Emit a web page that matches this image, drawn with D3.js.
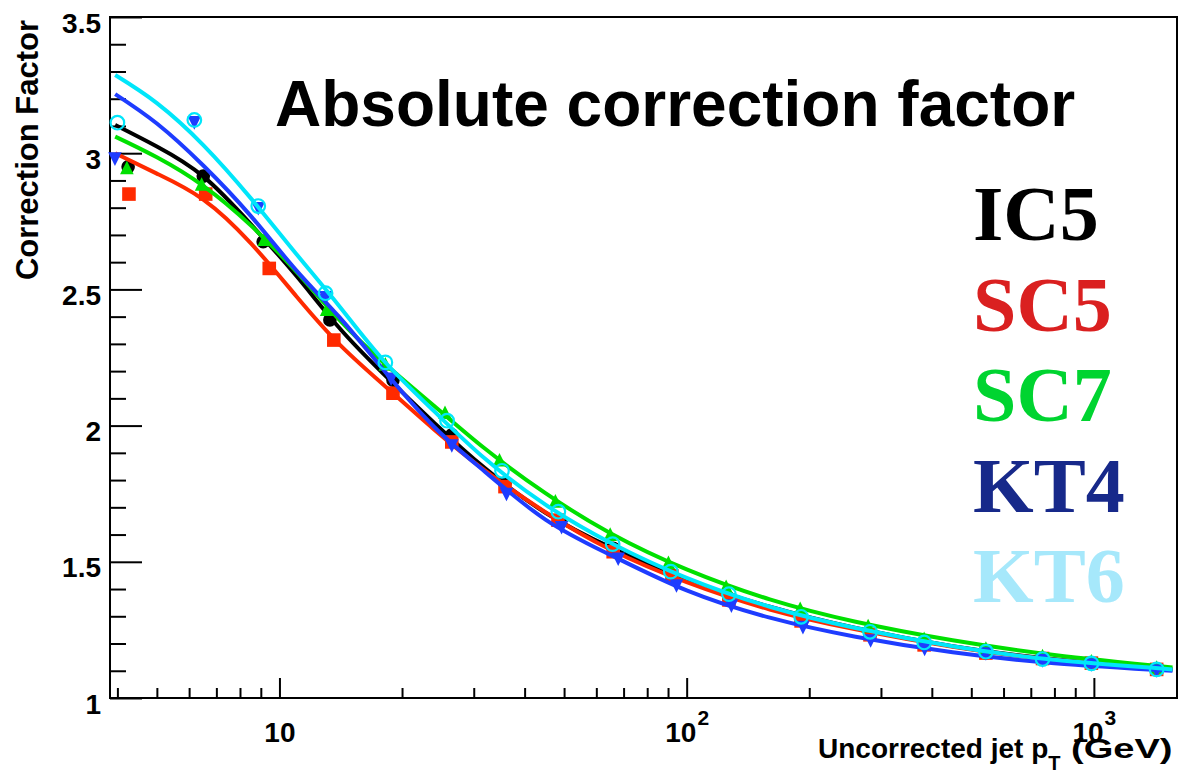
<!DOCTYPE html>
<html>
<head>
<meta charset="utf-8">
<script src="https://cdn.jsdelivr.net/npm/d3@7"></script>
<style>
  html, body { margin: 0; padding: 0; background: #fff; }
  svg { display: block; }
  text { font-family: "Liberation Sans", Arial, Helvetica, sans-serif; font-weight: bold; }
  text.leg { font-family: "Liberation Serif", "Times New Roman", serif; }
</style>
</head>
<body>
<svg id="chart" width="1182" height="777"></svg>
<script>
// ---- data -------------------------------------------------------------
const seriesNames = ["IC5", "SC5", "SC7", "KT4", "KT6"];

// measured points: uncorrected pT (GeV) and correction factor
const ic5Pt  = [4.25, 6.5, 9.12, 13.3, 19.0, 26.5, 35.8, 48.9, 66, 92, 127, 191, 282, 383, 543, 748, 986, 1426];
const ic5Val = [2.950, 2.916, 2.675, 2.388, 2.167, 1.966, 1.789, 1.650, 1.550, 1.450, 1.367, 1.286, 1.235, 1.197, 1.165, 1.142, 1.127, 1.105];

const sc5Pt  = [4.27, 6.59, 9.44, 13.6, 19.0, 26.5, 35.8, 48.3, 66, 92, 127, 191, 282, 383, 543, 748, 986, 1426];
const sc5Val = [2.850, 2.850, 2.577, 2.314, 2.119, 1.940, 1.776, 1.653, 1.537, 1.448, 1.360, 1.283, 1.232, 1.195, 1.165, 1.145, 1.128, 1.105];

const sc7Pt  = [4.22, 6.44, 9.18, 13.06, 18.2, 25.5, 34.7, 47.6, 64.9, 90.2, 125, 190, 279, 383, 543, 748, 986, 1426];
const sc7Val = [2.944, 2.883, 2.681, 2.424, 2.223, 2.045, 1.871, 1.720, 1.598, 1.494, 1.406, 1.326, 1.262, 1.215, 1.180, 1.152, 1.133, 1.110];

const kt4Pt  = [3.945, 6.18, 8.87, 13.0, 18.8, 26.5, 36.1, 49.3, 67.9, 94.4, 128.8, 193, 283, 384, 543, 748, 986, 1426];
const kt4Val = [2.982, 3.115, 2.800, 2.473, 2.174, 1.929, 1.751, 1.629, 1.513, 1.415, 1.341, 1.262, 1.213, 1.182, 1.165, 1.140, 1.125, 1.103];

const kt6Pt  = [4.0, 6.18, 8.87, 12.98, 18.2, 25.8, 35.2, 48.4, 65.8, 91.4, 127, 191, 282, 383, 543, 748, 986, 1426];
const kt6Val = [3.112, 3.122, 2.806, 2.486, 2.232, 2.018, 1.834, 1.684, 1.565, 1.464, 1.381, 1.298, 1.243, 1.204, 1.170, 1.143, 1.127, 1.105];

// fitted response curves, sampled at these pT values
const fitPt  = [3.95, 5, 6.5, 8.5, 11, 14, 18, 24, 32, 45, 65, 100, 160, 260, 450, 800, 1560];
const ic5Fit = [3.104, 3.025, 2.915, 2.740, 2.550, 2.360, 2.190, 2.010, 1.843, 1.680, 1.553, 1.435, 1.335, 1.257, 1.190, 1.142, 1.105];
const sc5Fit = [3.000, 2.925, 2.830, 2.670, 2.475, 2.300, 2.150, 1.985, 1.835, 1.682, 1.545, 1.425, 1.325, 1.252, 1.188, 1.140, 1.105];
const sc7Fit = [3.061, 2.985, 2.880, 2.735, 2.565, 2.390, 2.232, 2.072, 1.915, 1.752, 1.605, 1.472, 1.362, 1.280, 1.212, 1.158, 1.112];
const kt4Fit = [3.217, 3.109, 2.955, 2.770, 2.570, 2.400, 2.205, 1.995, 1.830, 1.655, 1.525, 1.395, 1.295, 1.225, 1.168, 1.128, 1.100];
const kt6Fit = [3.287, 3.184, 3.030, 2.835, 2.630, 2.440, 2.240, 2.052, 1.878, 1.710, 1.570, 1.441, 1.335, 1.257, 1.190, 1.140, 1.105];

// axis ticks
const yMajorTicks = [1, 1.5, 2, 2.5, 3, 3.5];
const yMinorTicks = d3.range(1.1, 3.5, 0.1).map(v => +v.toFixed(1)).filter(v => !yMajorTicks.includes(v));
const xMajorTicks = [10, 100, 1000];
const xMajorExp   = ["", "2", "3"];
const xMinorTicks = [4, 5, 6, 7, 8, 9, 20, 30, 40, 50, 60, 70, 80, 90, 200, 300, 400, 500, 600, 700, 800, 900];

// ---- drawing ----------------------------------------------------------
const svg = d3.select("#chart");
const frame = { left: 110, right: 1177, top: 17, bottom: 698 };

const x = d3.scaleLog().domain([3.836, 1600]).range([frame.left, frame.right]);
const y = d3.scaleLinear().domain([1, 3.5]).range([frame.bottom, frame.top]);

const series = [
  { name: seriesNames[0], pt: ic5Pt, val: ic5Val, fit: ic5Fit, color: "#000000", legend: "#000000", marker: "circle" },
  { name: seriesNames[1], pt: sc5Pt, val: sc5Val, fit: sc5Fit, color: "#ff2a00", legend: "#da2020", marker: "square" },
  { name: seriesNames[2], pt: sc7Pt, val: sc7Val, fit: sc7Fit, color: "#00e000", legend: "#00d430", marker: "triUp" },
  { name: seriesNames[3], pt: kt4Pt, val: kt4Val, fit: kt4Fit, color: "#1e3cff", legend: "#17298a", marker: "triDown" },
  { name: seriesNames[4], pt: kt6Pt, val: kt6Val, fit: kt6Fit, color: "#00e6fa", legend: "#a6e8fb", marker: "openCircle" }
];

// frame
svg.append("rect")
  .attr("x", frame.left).attr("y", frame.top)
  .attr("width", frame.right - frame.left).attr("height", frame.bottom - frame.top)
  .attr("fill", "none").attr("stroke", "#000").attr("stroke-width", 2);

// y axis: major ticks with labels, minor ticks inside
const yAxis = svg.append("g").attr("transform", `translate(${frame.left},0)`)
  .call(d3.axisLeft(y).tickValues(yMajorTicks).tickSize(-32).tickPadding(9)
    .tickFormat(d => String(d)));
yAxis.select(".domain").remove();
yAxis.selectAll("line").attr("stroke", "#000").attr("stroke-width", 2);
yAxis.selectAll("text").attr("font-size", 28).attr("font-family", null)
  .attr("dy", "0.54em").attr("fill", "#000");

const yMinor = svg.append("g").attr("transform", `translate(${frame.left},0)`)
  .call(d3.axisLeft(y).tickValues(yMinorTicks).tickSize(-16).tickFormat(""));
yMinor.select(".domain").remove();
yMinor.selectAll("line").attr("stroke", "#000").attr("stroke-width", 2);

// x axis: decade ticks with power-of-ten labels
const xAxis = svg.append("g").attr("transform", `translate(0,${frame.bottom})`)
  .call(d3.axisBottom(x).tickValues(xMajorTicks).tickSize(-20).tickPadding(24)
    .tickFormat(() => ""));
xAxis.select(".domain").remove();
xAxis.selectAll("line").attr("stroke", "#000").attr("stroke-width", 2);
xAxis.selectAll("text").each(function (d, i) {
  const t = d3.select(this).attr("font-size", 28).attr("font-family", null)
    .attr("fill", "#000").attr("y", 44).attr("dy", null);
  t.append("tspan").text("10");
  if (xMajorExp[i]) {
    t.append("tspan").attr("font-size", 21).attr("dy", -17).attr("dx", 1).text(xMajorExp[i]);
  }
});

const xMinor = svg.append("g").attr("transform", `translate(0,${frame.bottom})`)
  .call(d3.axisBottom(x).tickValues(xMinorTicks).tickSize(-10).tickFormat(""));
xMinor.select(".domain").remove();
xMinor.selectAll("line").attr("stroke", "#000").attr("stroke-width", 2);

// axis titles
svg.append("text")
  .attr("transform", "translate(38,20) rotate(-90)")
  .attr("text-anchor", "end").attr("font-size", 31).attr("fill", "#000")
  .text("Correction Factor");

const xTitle = svg.append("text")
  .attr("x", 818).attr("y", 758)
  .attr("font-size", 28).attr("fill", "#000");
xTitle.append("tspan").text("Uncorrected jet p");
xTitle.append("tspan").attr("font-size", 20).attr("dy", 12).text("T");
// unit part of the axis title, set slightly wider
svg.append("text")
  .attr("transform", "translate(1071,758) scale(1.36,1)")
  .attr("font-size", 28).attr("fill", "#000")
  .text("(GeV)");

// title
svg.append("text")
  .attr("x", 275).attr("y", 126).attr("font-size", 64).attr("fill", "#000")
  .text("Absolute correction factor");

// data: markers followed by fitted curve for each algorithm
const fitLine = d3.line().curve(d3.curveNatural);
const symSize = 6.8;

series.forEach(s => {
  const g = svg.append("g");
  const pts = s.pt.map((p, i) => [x(p), y(s.val[i])]);
  const m = g.selectAll("path.m").data(pts).enter().append("path")
    .attr("class", "m")
    .attr("transform", d => `translate(${d[0]},${d[1]})`);
  const r = symSize;
  if (s.marker === "circle") {
    m.attr("d", `M${-r},0A${r},${r} 0 1,0 ${r},0A${r},${r} 0 1,0 ${-r},0Z`).attr("fill", s.color);
  } else if (s.marker === "square") {
    m.attr("d", `M${-r},${-r}H${r}V${r}H${-r}Z`).attr("fill", s.color);
  } else if (s.marker === "triUp") {
    m.attr("d", `M0,${-r * 1.15}L${r},${r * 0.85}L${-r},${r * 0.85}Z`).attr("fill", s.color);
  } else if (s.marker === "triDown") {
    m.attr("d", `M0,${r * 1.15}L${r},${-r * 0.85}L${-r},${-r * 0.85}Z`).attr("fill", s.color);
  } else {
    m.attr("d", `M${-r},0A${r},${r} 0 1,0 ${r},0A${r},${r} 0 1,0 ${-r},0Z`)
      .attr("fill", "none").attr("stroke", s.color).attr("stroke-width", 2.2);
  }
  g.append("path")
    .attr("d", fitLine(fitPt.map((p, i) => [x(p), y(s.fit[i])])))
    .attr("fill", "none").attr("stroke", s.color).attr("stroke-width", 4)
    .attr("stroke-linejoin", "round");
});

// algorithm labels
svg.selectAll("text.leg").data(series).enter().append("text")
  .attr("class", "leg")
  .attr("x", 973).attr("y", (d, i) => 240 + i * 90.5)
  .attr("font-size", 78).attr("fill", d => d.legend)
  .text(d => d.name);
</script>
</body>
</html>
